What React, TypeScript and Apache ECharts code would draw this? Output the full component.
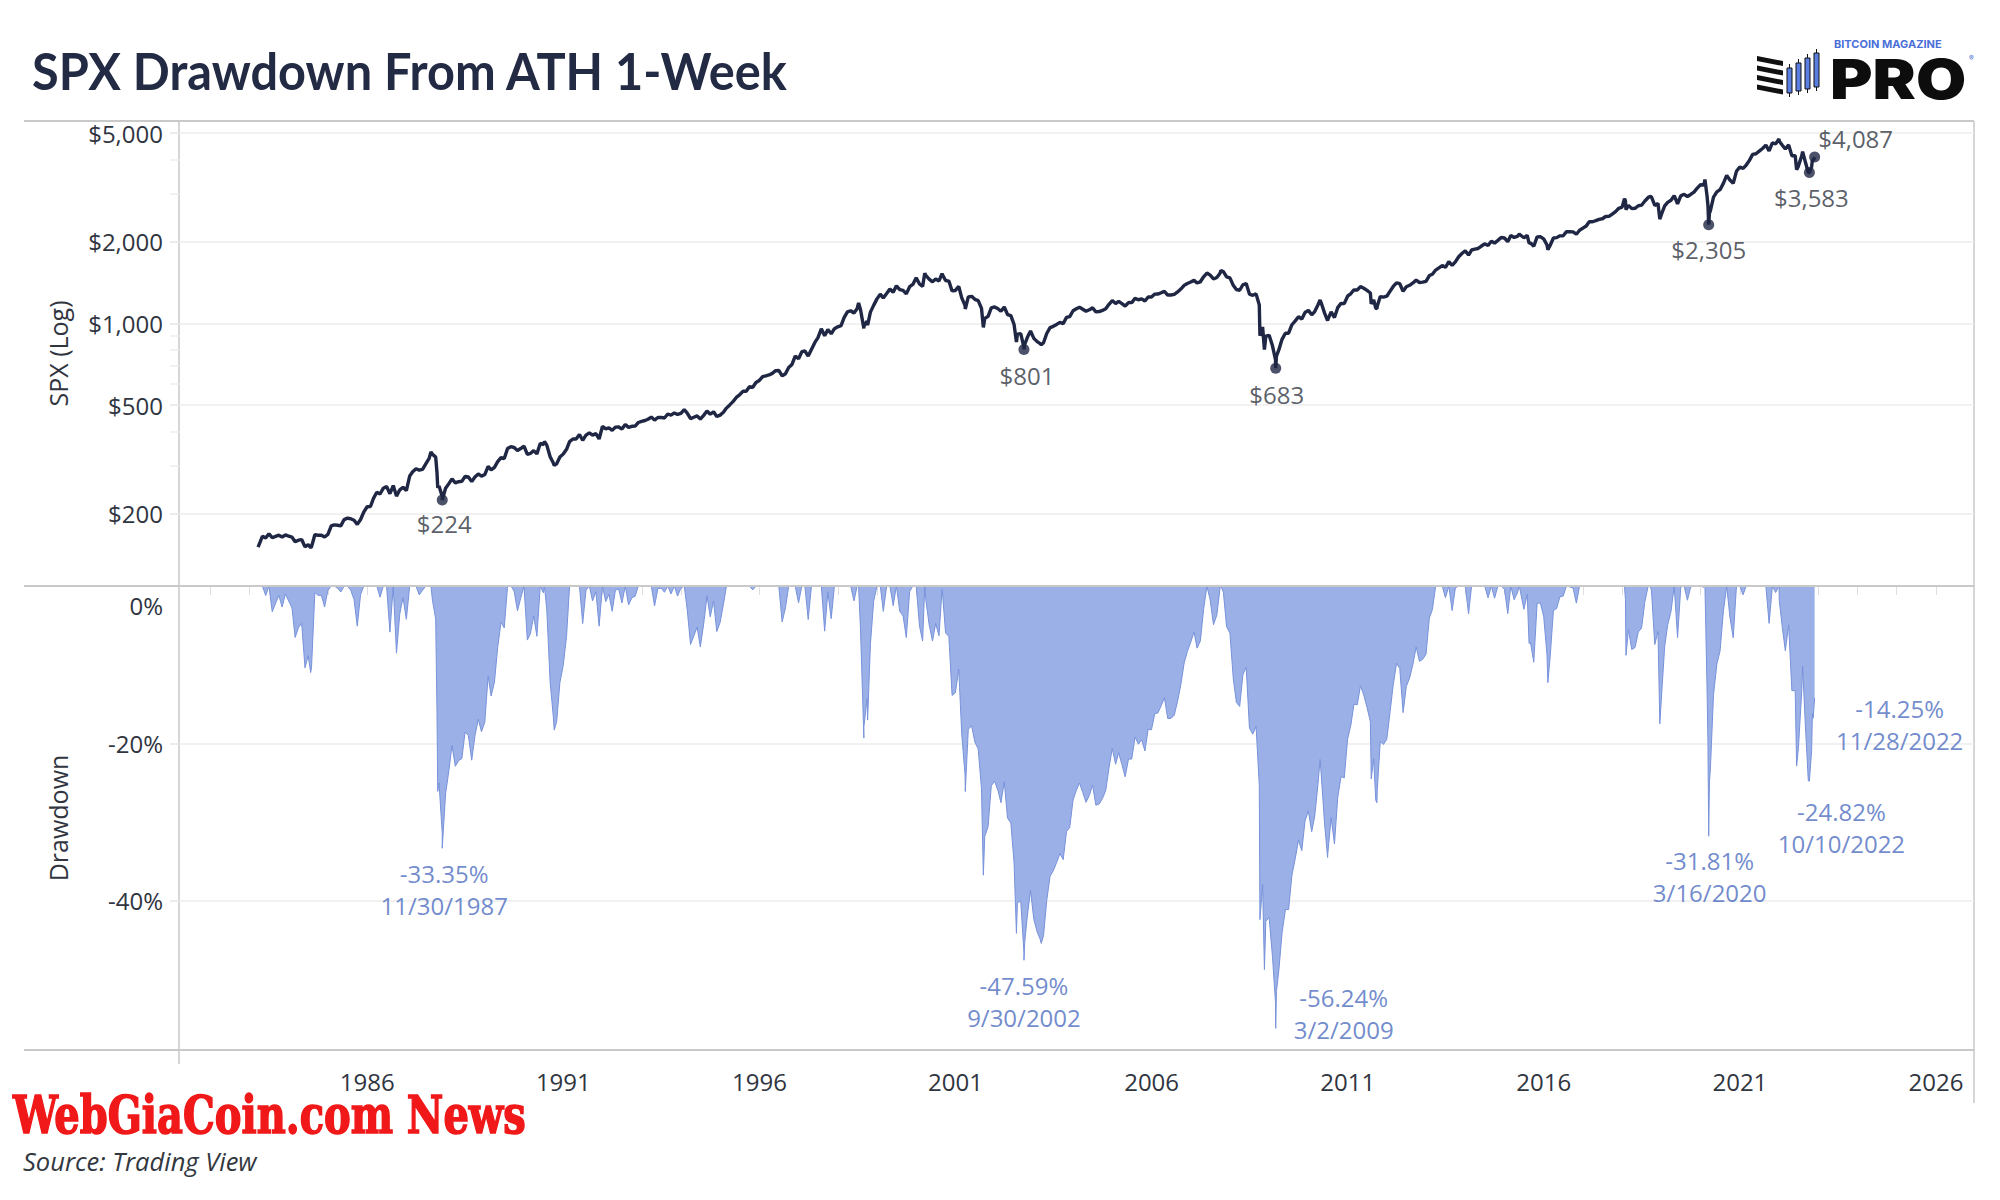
import React, { useEffect, useRef } from "react";
import * as echarts from "echarts";

// ---------- DATA (read from the picture / estimated) ----------
// Month-end SPX closes, Apr 1983 – Dec 1989
const spx1980sStart = "1983-04";
const spx1980s = [
  164.4, 162.4, 168.1, 162.6, 164.4, 166.1, 163.6, 166.4, 164.9,
  163.4, 157.1, 159.2, 160.1, 150.6, 153.2, 150.7, 166.7, 166.1, 166.1, 163.6, 167.2,
  179.6, 181.2, 180.7, 179.8, 189.6, 191.9, 190.9, 188.6, 182.1, 189.8, 202.2, 211.3,
  211.8, 226.9, 238.9, 235.5, 247.4, 250.8, 236.1, 252.9, 231.3, 244.0, 249.2, 242.2,
  274.1, 284.2, 291.7, 288.4, 290.1, 304.0, 318.7, 329.8, 321.8, 251.8, 230.3, 247.1,
  257.1, 267.8, 258.9, 261.3, 262.2, 273.5, 272.0, 261.5, 271.9, 279.0, 273.7, 277.7,
  297.5, 288.9, 294.9, 309.6, 320.5, 318.0, 346.1, 351.5, 349.2, 340.4, 346.0, 353.4,
];
const spx1990sStart = "1990-01";
const spx1990s = [
  329.1, 331.9, 339.9, 330.8, 361.2, 358.0, 356.2, 322.6, 306.1, 304.0, 322.2, 330.2,
  343.9, 367.1, 375.2, 375.3, 389.8, 371.2, 387.8, 395.4, 387.9, 392.5, 375.2, 417.1,
  408.8, 412.7, 403.7, 415.0, 415.4, 408.1, 424.2, 414.0, 417.8, 418.7, 431.4, 435.7,
  438.8, 443.4, 451.7, 440.2, 450.2, 450.5, 448.1, 463.6, 458.9, 467.8, 461.8, 466.5,
  481.6, 467.1, 445.8, 450.9, 456.5, 444.3, 458.3, 475.5, 462.7, 472.4, 453.7, 459.3,
  470.4, 487.4, 500.7, 514.7, 533.4, 544.8, 562.1, 561.9, 584.4, 581.5, 605.4, 615.9,
  636.0, 640.4, 645.5, 654.2, 669.1, 670.6, 640.0, 652.0, 687.3, 705.3, 757.0, 740.7,
  786.2, 790.8, 757.1, 801.3, 848.3, 885.1, 954.3, 899.5, 947.3, 914.6, 955.4, 970.4,
  980.3, 1049.3, 1101.8, 1111.8, 1090.8, 1133.8, 1120.7, 957.3, 1017.0, 1098.7, 1163.6, 1229.2,
  1279.6, 1238.3, 1286.4, 1335.2, 1301.8, 1372.7, 1328.7, 1320.4, 1282.7, 1362.9, 1389.0, 1469.3,
];
const spx2000sStart = "2000-01";
const spx2000s = [
  1394.5, 1366.4, 1498.6, 1452.4, 1420.6, 1454.6, 1430.8, 1517.7, 1436.5, 1429.4, 1315.0, 1320.3,
  1366.0, 1239.9, 1160.3, 1249.5, 1255.8, 1224.4, 1211.2, 1133.6, 1040.9, 1059.8, 1139.5, 1148.1,
  1130.2, 1106.7, 1147.4, 1076.9, 1067.1, 989.8, 911.6, 916.1, 815.3, 885.8, 936.3, 879.8,
  855.7, 841.2, 848.2, 916.9, 963.6, 974.5, 990.3, 1008.0, 996.0, 1050.7, 1058.2, 1111.9,
  1131.1, 1144.9, 1126.2, 1107.3, 1120.7, 1140.8, 1101.7, 1104.2, 1114.6, 1130.2, 1173.8, 1211.9,
  1181.3, 1203.6, 1180.6, 1156.9, 1191.5, 1191.3, 1234.2, 1220.3, 1228.8, 1207.0, 1249.5, 1248.3,
  1280.1, 1280.7, 1294.8, 1310.6, 1270.1, 1270.2, 1276.7, 1303.8, 1335.9, 1377.9, 1400.6, 1418.3,
  1438.2, 1406.8, 1420.9, 1482.4, 1530.6, 1503.4, 1455.3, 1474.0, 1526.8, 1549.4, 1481.1, 1468.4,
  1378.6, 1330.6, 1322.7, 1385.6, 1400.4, 1280.0, 1267.4, 1282.8, 1166.4, 968.8, 896.2, 903.3,
  825.9, 735.1, 797.9, 872.8, 919.1, 919.3, 987.5, 1020.6, 1057.1, 1036.2, 1095.6, 1115.1,
];
const spx2010sStart = "2010-01";
const spx2010s = [
  1073.9, 1104.5, 1169.4, 1186.7, 1089.4, 1030.7, 1101.6, 1049.3, 1141.2, 1183.3, 1180.6, 1257.6,
  1286.1, 1327.2, 1325.8, 1363.6, 1345.2, 1320.6, 1292.3, 1218.9, 1131.4, 1253.3, 1247.0, 1257.6,
  1312.4, 1365.7, 1408.5, 1397.9, 1310.3, 1362.2, 1379.3, 1406.6, 1440.7, 1412.2, 1416.2, 1426.2,
  1498.1, 1514.7, 1569.2, 1597.6, 1630.7, 1606.3, 1685.7, 1633.0, 1681.6, 1756.5, 1805.8, 1848.4,
  1782.6, 1859.5, 1872.3, 1884.0, 1923.6, 1960.2, 1930.7, 2003.4, 1972.3, 2018.1, 2067.6, 2058.9,
  1995.0, 2104.5, 2067.9, 2085.5, 2107.4, 2063.1, 2103.8, 1972.2, 1920.0, 2079.4, 2080.4, 2043.9,
  1940.2, 1932.2, 2059.7, 2065.3, 2097.0, 2098.9, 2173.6, 2171.0, 2168.3, 2126.2, 2198.8, 2238.8,
  2278.9, 2363.6, 2362.7, 2384.2, 2411.8, 2423.4, 2470.3, 2471.7, 2519.4, 2575.3, 2647.6, 2673.6,
  2823.8, 2713.8, 2640.9, 2648.1, 2705.3, 2718.4, 2816.3, 2901.5, 2914.0, 2711.7, 2760.2, 2506.9,
  2704.1, 2784.5, 2834.4, 2945.8, 2752.1, 2941.8, 2980.4, 2926.5, 2976.7, 3037.6, 3141.0, 3230.8,
];
const spx2020sStart = "2020-01";
const spx2020s = [
  3225.5, 2954.2, 2584.6, 2912.4, 3044.3, 3100.3, 3271.1, 3500.3, 3363.0, 3270.0, 3621.6, 3756.1,
  3714.2, 3811.2, 3972.9, 4181.2, 4204.1, 4297.5, 4395.3, 4522.7, 4307.5, 4605.4, 4567.0, 4766.2,
  4515.6, 4373.9, 4530.4, 4131.9, 4132.2, 3785.4, 4130.3, 3955.0, 3585.6,
];
// Notable weekly closes (week starting on the given Monday)
const weeklyCloses: [string, number][] = [
  ["1983-03-21", 150.0], ["1984-07-23", 149.6],
  ["1987-08-17", 335.9], ["1987-10-12", 282.7], ["1987-10-19", 248.2], ["1987-11-30", 223.9],
  ["1990-07-09", 367.3], ["1990-10-08", 300.0],
  ["1998-07-13", 1186.8], ["1998-08-31", 973.9], ["1998-10-05", 984.4],
  ["2000-03-20", 1527.5], ["2000-08-28", 1520.8],
  ["2001-04-02", 1128.4], ["2001-09-17", 965.8],
  ["2002-07-22", 852.8], ["2002-09-30", 800.6], ["2002-10-07", 835.3], ["2003-03-10", 833.3],
  ["2007-10-08", 1561.8], ["2008-10-06", 899.2], ["2008-11-17", 800.0],
  ["2009-03-02", 683.4], ["2009-03-09", 756.6],
  ["2010-04-19", 1217.3], ["2010-06-28", 1022.6],
  ["2011-08-08", 1178.8], ["2011-09-19", 1136.4], ["2011-10-03", 1155.5],
  ["2015-05-18", 2126.1], ["2015-08-17", 1971.0], ["2016-02-08", 1864.8],
  ["2018-01-22", 2872.9], ["2018-02-05", 2619.6], ["2018-09-17", 2929.7], ["2018-12-17", 2416.6],
  ["2020-02-10", 3380.2], ["2020-03-09", 2711.0], ["2020-03-16", 2304.9], ["2020-03-23", 2541.5],
  ["2022-01-03", 4677.0], ["2022-06-13", 3674.8], ["2022-08-08", 4280.2],
  ["2022-10-10", 3583.1], ["2022-10-31", 3770.6], ["2022-11-07", 3992.9],
  ["2022-11-14", 3965.3], ["2022-11-21", 4026.1], ["2022-11-28", 4087.0],
];

const priceCalloutDates = ["1987-11-30", "2002-09-30", "2009-03-02", "2020-03-16", "2022-10-10", "2022-11-28"];
const priceCalloutValues = [224, 801, 683, 2305, 3583, 4087];
const drawdownCalloutDates = ["1987-11-30", "2002-09-30", "2009-03-02", "2020-03-16", "2022-10-10", "2022-11-28"];
const drawdownCalloutValues = [-33.35, -47.59, -56.24, -31.81, -24.82, -14.25];

const priceTicks = [200, 500, 1000, 2000, 5000];
const priceMinorTicks = [300, 400, 600, 700, 800, 900, 3000, 4000];
const drawdownTicks = [-40, -20, 0];
const yearLabels = [1986, 1991, 1996, 2001, 2006, 2011, 2016, 2021, 2026];
const yearTicks = [
  1982, 1983, 1984, 1985, 1986, 1987, 1988, 1989, 1990, 1991, 1992, 1993, 1994, 1995, 1996,
  1997, 1998, 1999, 2000, 2001, 2002, 2003, 2004, 2005, 2006, 2007, 2008, 2009, 2010, 2011,
  2012, 2013, 2014, 2015, 2016, 2017, 2018, 2019, 2020, 2021, 2022, 2023, 2024, 2025, 2026,
];

// ---------- STYLE ----------
const priceLabelOffsets = [[2, 24], [3, 26], [1, 26], [0, 25], [2, 25], [41, -19]];
const drawdownLabelOffsets = [[2, 41], [0, 41], [68, -15], [1, 40], [32, 46], [85, 26]];
const FONT = '"Open Sans", "Noto Sans", sans-serif';
const TEXT = "#30353f";
const NAVY = "#1f2744";
const BLUE_TEXT = "#4d6dc0";

// ---------- HELPERS ----------
function decYear(t: number) {
  const y = new Date(t).getUTCFullYear();
  const t0 = Date.UTC(y, 0, 1);
  const t1 = Date.UTC(y + 1, 0, 1);
  return y + (t - t0) / (t1 - t0);
}
function dateToYear(s: string) {
  const [y, m, d] = s.split("-").map(Number);
  return decYear(Date.UTC(y, m - 1, d));
}
function monthEndYear(start: string, i: number) {
  const [y, m] = start.split("-").map(Number);
  const idx = m - 1 + i;
  const yy = y + Math.floor(idx / 12);
  const mm = idx % 12;
  return decYear(Date.UTC(yy, mm + 1, 0));
}
function fmtDate(s: string) {
  const [y, m, d] = s.split("-").map(Number);
  return `${m}/${d}/${y}`;
}

function buildPrices(): [number, number][] {
  const pts: [number, number][] = [];
  const blocks: [string, number[]][] = [
    [spx1980sStart, spx1980s],
    [spx1990sStart, spx1990s],
    [spx2000sStart, spx2000s],
    [spx2010sStart, spx2010s],
    [spx2020sStart, spx2020s],
  ];
  blocks.forEach(([start, arr]) => arr.forEach((v, i) => pts.push([monthEndYear(start, i), v])));
  weeklyCloses.forEach(([d, v]) => pts.push([dateToYear(d), v]));
  pts.sort((a, b) => a[0] - b[0]);
  return pts;
}

const X_MIN = 1981.2;
const X_MAX = 2026.97;
const Y1_MIN = 2.0335;
const Y1_MAX = 3.744;
const Y2_MIN = -59;
const Y2_MAX = 0;

export default function App() {
  const ref = useRef<HTMLDivElement>(null);

  useEffect(() => {
    document.body.style.margin = "0";
    if (!ref.current) return;
    const chart = echarts.init(ref.current, null, { renderer: "svg" });

    const prices = buildPrices();
    let peak = 0;
    const drawdown = prices.map(([x, p]) => {
      peak = Math.max(peak, p);
      return [x, (p / peak - 1) * 100];
    });

    const frame = "#c9c9c9";

    const logo: any[] = [];
    for (let i = 0; i < 4; i++) {
      const y0 = 56 + i * 9.5;
      logo.push({
        type: "polygon",
        shape: { points: [[1757, y0], [1783, y0 + 5], [1783, y0 + 10], [1757, y0 + 5]] },
        style: { fill: "#111111" },
      });
    }
    const barX = [1787, 1796, 1805, 1814];
    const barTop = [68, 63, 58, 53];
    const barBot = [93, 91, 89, 87];
    barX.forEach((bx, i) => {
      logo.push({
        type: "line",
        shape: { x1: bx + 2.5, y1: barTop[i] - 4, x2: bx + 2.5, y2: barBot[i] + 4 },
        style: { stroke: "#111111", lineWidth: 1 },
      });
      logo.push({
        type: "rect",
        shape: { x: bx, y: barTop[i], width: 5, height: barBot[i] - barTop[i] },
        style: { fill: "#5b7fe0", stroke: "#111111", lineWidth: 1 },
      });
    });
    logo.push({
      type: "text",
      style: {
        text: "BITCOIN MAGAZINE", x: 1834, y: 44,
        font: 'bold 11px "Inter", "Roboto", sans-serif',
        fill: "#4a6fd8", textVerticalAlign: "middle", verticalAlign: "middle",
      },
    });
    logo.push({
      type: "text", x: 1830, y: 79, scaleX: 1.18,
      style: {
        text: "PRO", x: 0, y: 0,
        font: '900 55px "Inter", "Roboto", sans-serif',
        fill: "#0d0d0d", textVerticalAlign: "middle", verticalAlign: "middle",
      },
    });
    logo.push({
      type: "text",
      style: {
        text: "®", x: 1969, y: 58,
        font: '7px "Inter", sans-serif',
        fill: "#4a6fd8", textVerticalAlign: "middle", verticalAlign: "middle",
      },
    });

    const option: any = {
      animation: false,
      backgroundColor: "#ffffff",
      textStyle: { fontFamily: FONT },
      grid: [
        { left: 179, right: 26, top: 121, height: 465 },
        { left: 179, right: 26, top: 586, height: 464 },
      ],
      xAxis: [
        { gridIndex: 0, type: "value", min: X_MIN, max: X_MAX, show: false },
        {
          gridIndex: 1, type: "value", min: X_MIN, max: X_MAX,
          axisLine: { show: false },
          axisTick: { show: true, customValues: yearTicks, length: 9, lineStyle: { color: "#dedede", width: 1 } },
          axisLabel: {
            customValues: yearLabels, formatter: (v: number) => String(Math.round(v)),
            fontSize: 24, color: TEXT, margin: 19, fontFamily: FONT,
          },
          splitLine: { show: false },
        },
      ],
      yAxis: [
        {
          gridIndex: 0, type: "value", min: Y1_MIN, max: Y1_MAX, position: "left",
          name: "SPX (Log)", nameLocation: "middle", nameGap: 109, nameRotate: 90,
          nameTextStyle: { fontSize: 25, color: TEXT, fontFamily: FONT },
          axisLine: { show: false },
          axisTick: { show: true, customValues: priceTicks.map((v) => Math.log10(v)), length: 9, lineStyle: { color: "#e6e6e6", width: 1.5 } },
          axisLabel: {
            customValues: priceTicks.map((v) => Math.log10(v)),
            formatter: (v: number) => "$" + Math.round(Math.pow(10, v)).toLocaleString("en-US"),
            fontSize: 24, color: TEXT, margin: 16, fontFamily: FONT,
          },
          splitLine: { show: true, lineStyle: { color: "#ececec", width: 1.5 } },
        },
        {
          gridIndex: 0, type: "value", min: Y1_MIN, max: Y1_MAX, position: "left",
          axisLine: { show: false },
          axisTick: { show: true, customValues: priceMinorTicks.map((v) => Math.log10(v)), length: 9, lineStyle: { color: "#ededed", width: 1.5 } },
          axisLabel: { show: false },
          splitLine: { show: false },
        },
        {
          gridIndex: 1, type: "value", min: Y2_MIN, max: Y2_MAX, position: "left",
          name: "Drawdown", nameLocation: "middle", nameGap: 109, nameRotate: 90,
          nameTextStyle: { fontSize: 25, color: TEXT, fontFamily: FONT },
          axisLine: { show: false },
          axisTick: { show: true, customValues: drawdownTicks, length: 9, lineStyle: { color: "#e6e6e6", width: 1.5 } },
          axisLabel: {
            customValues: drawdownTicks,
            formatter: (v: number) => (v === 0 ? "{z|0%}" : `${v}%`),
            rich: { z: { fontSize: 24, color: TEXT, fontFamily: FONT, padding: [38, 0, 0, 0] } },
            fontSize: 24, color: TEXT, margin: 16, fontFamily: FONT,
          },
          splitLine: { show: true, lineStyle: { color: "#ececec", width: 1.5 } },
        },
      ],
      series: [
        {
          name: "SPX", type: "line", xAxisIndex: 0, yAxisIndex: 0,
          data: prices.map(([x, p]) => [x, Math.log10(p)]),
          showSymbol: false, lineStyle: { color: NAVY, width: 3.4 }, z: 3,
        },
        {
          name: "Drawdown", type: "line", xAxisIndex: 1, yAxisIndex: 2,
          data: drawdown, showSymbol: false,
          lineStyle: { color: "#7792da", width: 1 },
          areaStyle: { color: "#9bb0e6", opacity: 1 },
        },
        {
          type: "scatter", xAxisIndex: 0, yAxisIndex: 0, symbol: "circle", symbolSize: 11, z: 5,
          itemStyle: { color: NAVY },
          data: priceCalloutDates.map((d, i) => ({
            value: [dateToYear(d), Math.log10(priceCalloutValues[i])],
            label: { offset: priceLabelOffsets[i] },
          })),
          label: {
            show: true, position: "inside", fontSize: 24, color: TEXT, fontFamily: FONT,
            formatter: (p: any) => "$" + priceCalloutValues[p.dataIndex].toLocaleString("en-US"),
          },
        },
        {
          type: "scatter", xAxisIndex: 1, yAxisIndex: 2, symbolSize: 0, z: 5,
          data: drawdownCalloutDates.map((d, i) => ({
            value: [dateToYear(d), drawdownCalloutValues[i]],
            label: { offset: drawdownLabelOffsets[i] },
          })),
          label: {
            show: true, position: "inside", fontSize: 24, lineHeight: 32, color: BLUE_TEXT, fontFamily: FONT,
            align: "center",
            formatter: (p: any) =>
              `${drawdownCalloutValues[p.dataIndex].toFixed(2)}%\n${fmtDate(drawdownCalloutDates[p.dataIndex])}`,
          },
        },
      ],
      graphic: [
        {
          type: "text", z: 10, x: 32, y: 71, scaleX: 0.955,
          style: {
            text: "SPX Drawdown From ATH 1-Week", x: 0, y: 0,
            font: 'bold 51px "Lato", "Open Sans", sans-serif',
            fill: "#222a44", textVerticalAlign: "middle", verticalAlign: "middle",
          },
        },
        { type: "line", shape: { x1: 24, y1: 121, x2: 1974, y2: 121 }, style: { stroke: frame, lineWidth: 2 } },
        { type: "line", shape: { x1: 24, y1: 586, x2: 1974, y2: 586 }, style: { stroke: frame, lineWidth: 2 }, z: 10 },
        { type: "line", shape: { x1: 24, y1: 1050, x2: 1974, y2: 1050 }, style: { stroke: frame, lineWidth: 2 } },
        { type: "line", shape: { x1: 179, y1: 121, x2: 179, y2: 1064 }, style: { stroke: frame, lineWidth: 1.5 } },
        { type: "line", shape: { x1: 1974, y1: 121, x2: 1974, y2: 1103 }, style: { stroke: frame, lineWidth: 1.5 } },
        ...logo,
        {
          type: "text", z: 20, x: 13, y: 1115, scaleX: 0.855,
          style: {
            text: "WebGiaCoin.com News", x: 0, y: 0,
            font: 'bold 52px "DejaVu Serif Condensed", "DejaVu Serif", serif',
            fill: "#f01818", stroke: "#f01818", lineWidth: 1.5,
            textVerticalAlign: "middle", verticalAlign: "middle",
          },
        },
        {
          type: "text",
          style: {
            text: "Source: Trading View", x: 23, y: 1161,
            font: 'italic 25.5px "Open Sans", sans-serif',
            fill: "#333840", textVerticalAlign: "middle", verticalAlign: "middle",
          },
        },
      ],
    };

    chart.setOption(option);
    return () => chart.dispose();
  }, []);

  return <div ref={ref} style={{ width: 2000, height: 1200 }} />;
}
